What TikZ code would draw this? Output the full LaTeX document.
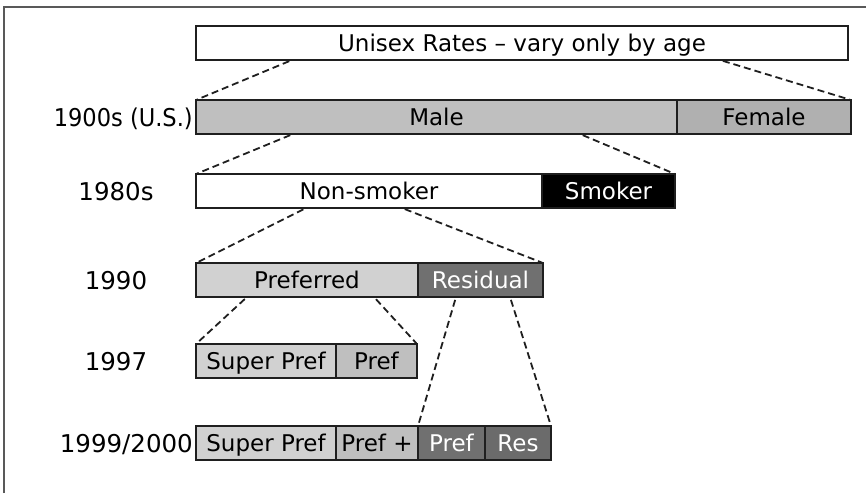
\documentclass[tikz,border=0pt]{standalone}
\usepackage{fontspec}
\setmainfont{DejaVu Sans}
\usetikzlibrary{calc}
\begin{document}
\begin{tikzpicture}[x=1pt,y=-1pt,
 seg/.style={draw=black!88, line width=2pt, rectangle, inner sep=0pt, outer sep=0pt, anchor=north west,
   minimum height=34pt, font=\fontsize{23}{26}\selectfont, text height=20pt, text depth=4pt},
 yr/.style={font=\fontsize{24.5}{30}\selectfont, inner sep=0pt, text height=22pt, text depth=4pt},
 link/.style={dash pattern=on 7pt off 4pt, line width=1.8pt, black!88, shorten >=1pt, shorten <=3pt}]
\useasboundingbox (0,0) rectangle (866,493);
\draw[black!65, line width=1.5pt] (4,493) -- (4,7) -- (866,7);
% boxes
\node[seg, fill=white, minimum width=652pt] (uni) at (196,26) {Unisex Rates – vary only by age};
\node[seg, fill=black!25, minimum width=481pt] (male) at (196,100) {Male};
\node[seg, fill=black!31, minimum width=174pt] (female) at (677,100) {Female};
\node[seg, fill=white, minimum width=346pt] (nons) at (196,174) {Non-smoker};
\node[seg, fill=black, text=white, minimum width=133pt] (smok) at (542,174) {Smoker};
\node[seg, fill=black!18, minimum width=222pt] (pref) at (196,263) {Preferred};
\node[seg, fill=black!56, text=white, minimum width=125pt] (res) at (418,263) {Residual};
\node[seg, fill=black!18, minimum width=140pt] (sp97) at (196,344) {Super Pref};
\node[seg, fill=black!25, minimum width=81pt] (p97) at (336,344) {Pref};
\node[seg, fill=black!18, minimum width=140pt] (sp99) at (196,426) {Super Pref};
\node[seg, fill=black!25, minimum width=82pt] (pp99) at (336,426) {Pref +};
\node[seg, fill=black!56, text=white, minimum width=67pt] (pf99) at (418,426) {Pref};
\node[seg, fill=black!58, text=white, minimum width=66pt] (rs99) at (485,426) {Res};
% labels
\node[yr, anchor=east] (l1900) at (193,117) {\scalebox{0.92}[1]{1900s (U.S.)}};
\node[yr] (l1980) at (116,191) {1980s};
\node[yr] (l1990) at (116,280) {1990};
\node[yr] (l1997) at (116,361) {1997};
\node[yr, anchor=east] (l1999) at (193,443) {1999/2000};
% connectors
\draw[link] ($(uni.south west)+(96,0)$) -- (male.north west);
\draw[link] ($(uni.south east)+(-128,0)$) -- (female.north east);
\draw[link] ($(male.south west)+(97,0)$) -- (nons.north west);
\draw[link] ($(male.south east)+(-97,0)$) -- (smok.north east);
\draw[link] ($(nons.south west)+(110,0)$) -- (pref.north west);
\draw[link] ($(nons.south east)+(-140,0)$) -- (res.north east);
\draw[link] ($(pref.south west)+(51,0)$) -- (sp97.north west);
\draw[link] ($(pref.south east)+(-44,0)$) -- (p97.north east);
\draw[link] ($(res.south west)+(38,0)$) -- (pf99.north west);
\draw[link] ($(res.south east)+(-33,0)$) -- (rs99.north east);
\end{tikzpicture}
\end{document}
